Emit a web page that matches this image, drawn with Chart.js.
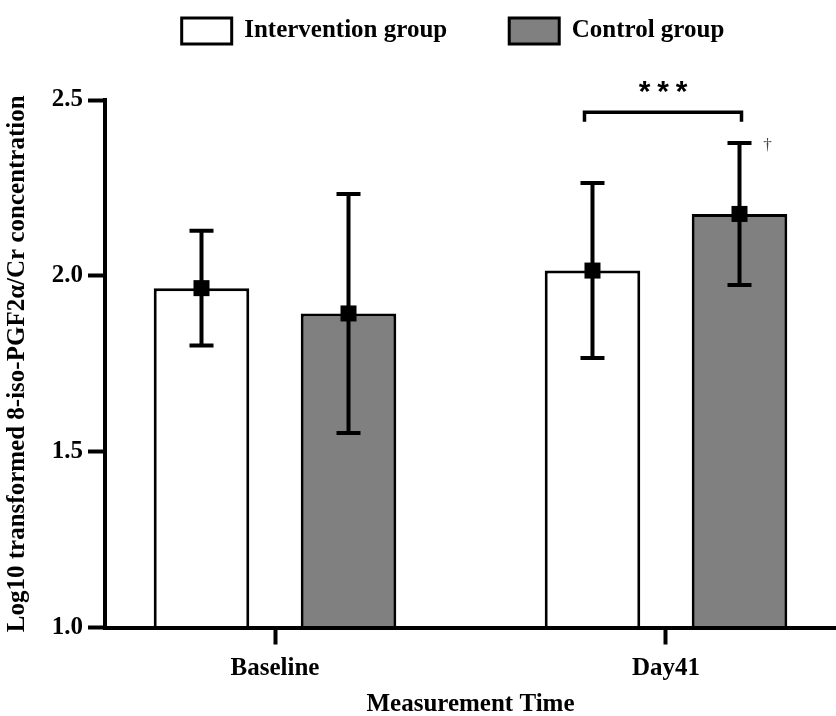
<!DOCTYPE html>
<html>
<head>
<meta charset="utf-8">
<script src="https://cdn.jsdelivr.net/npm/chart.js@4/dist/chart.umd.min.js"></script>
<style>
  html, body { margin: 0; padding: 0; background: #ffffff; }
  #wrap { width: 836px; height: 716px; }
</style>
</head>
<body>
<div id="wrap"><canvas id="c" width="836" height="716"></canvas></div>
<script>
// ---- data ----
const categories = ['Baseline', 'Day41'];
const seriesNames = ['Intervention group', 'Control group'];
const interventionMean = [1.965, 2.015];
const interventionSD = [0.163, 0.249];
const controlMean = [1.893, 2.176];
const controlSD = [0.340, 0.202];
const yTickValues = [1.0, 1.5, 2.0, 2.5];
const yTickLabels = ['1.0', '1.5', '2.0', '2.5'];
const xTickValues = [0, 1];
const yAxisTitle = 'Log10 transformed 8-iso-PGF2\u03B1/Cr concentration';
const xAxisTitle = 'Measurement Time';
const significanceLabel = '***';
const daggerLabel = '\u2020';

const SERIF = "'Liberation Serif', 'Times New Roman', serif";
Chart.defaults.font.family = SERIF;
Chart.defaults.font.size = 25;
Chart.defaults.font.weight = 'bold';
Chart.defaults.color = '#000';

const sdBySeries = [interventionSD, controlSD];
const meanBySeries = [interventionMean, controlMean];

const legendTweak = {
  id: 'legendTweak',
  beforeUpdate(chart) {
    const lg = chart.legend;
    if (lg && !lg._patched) {
      const fit = lg.fit;
      lg.fit = function () { fit.call(this); this.height = 100; };
      lg._patched = true;
    }
  },
  afterLayout(chart) {
    const lg = chart.legend;
    lg.top = -44;
    lg.left += 35;
    lg.right += 35;
  }
};

const errorBars = {
  id: 'errorBars',
  afterDatasetsDraw(chart) {
    const ctx = chart.ctx;
    const y = chart.scales.y;
    ctx.save();
    ctx.strokeStyle = '#000';
    ctx.fillStyle = '#000';
    ctx.lineCap = 'butt';
    for (let d = 0; d < chart.data.datasets.length; d++) {
      const meta = chart.getDatasetMeta(d);
      meta.data.forEach((bar, i) => {
        const m = meanBySeries[d][i], s = sdBySeries[d][i];
        const yt = y.getPixelForValue(m + s);
        const yb = y.getPixelForValue(m - s);
        const ym = y.getPixelForValue(m);
        const x = bar.x;
        ctx.lineWidth = 4;
        ctx.beginPath();
        ctx.moveTo(x, yt); ctx.lineTo(x, yb);
        ctx.moveTo(x - 12, yt); ctx.lineTo(x + 12, yt);
        ctx.moveTo(x - 12, yb); ctx.lineTo(x + 12, yb);
        ctx.stroke();
        ctx.fillRect(x - 8, ym - 8, 16, 16);
      });
    }
    // significance bracket between the two Day41 bars
    const bI = chart.getDatasetMeta(0).data[1];
    const bC = chart.getDatasetMeta(1).data[1];
    const left = bI.x - 8, right = bC.x + 2;
    const yLine = y.getPixelForValue(2.465);
    const yDrop = y.getPixelForValue(2.438);
    ctx.lineWidth = 3.5;
    ctx.lineJoin = 'miter';
    ctx.beginPath();
    ctx.moveTo(left, yDrop); ctx.lineTo(left, yLine);
    ctx.lineTo(right, yLine); ctx.lineTo(right, yDrop);
    ctx.stroke();
    // asterisks
    ctx.font = "bold 30px 'Liberation Sans', Arial, sans-serif";
    ctx.textAlign = 'center';
    ctx.textBaseline = 'middle';
    const cx = (left + right) / 2;
    const ys = yLine - 22;
    [-18.5, 0, 18.5].forEach((dx, k) => ctx.fillText(significanceLabel[k], cx + dx, ys + 2));
    // dagger
    ctx.font = "17px " + SERIF;
    ctx.fillStyle = '#444';
    ctx.fillText(daggerLabel, bC.x + 28, y.getPixelForValue(controlMean[1] + controlSD[1]) + 3);
    ctx.restore();
  }
};

new Chart(document.getElementById('c'), {
  type: 'bar',
  data: {
    datasets: [
      {
        label: seriesNames[0],
        data: categories.map((c, i) => ({ x: xTickValues[i], y: interventionMean[i] })),
        backgroundColor: '#ffffff',
        borderColor: '#000000',
        borderWidth: 3,
        categoryPercentage: 0.752,
        barPercentage: 0.65
      },
      {
        label: seriesNames[1],
        data: categories.map((c, i) => ({ x: xTickValues[i], y: controlMean[i] })),
        backgroundColor: '#808080',
        borderColor: '#000000',
        borderWidth: 3,
        categoryPercentage: 0.752,
        barPercentage: 0.65
      }
    ]
  },
  options: {
    responsive: false,
    animation: false,
    devicePixelRatio: 1,
    layout: { padding: 0 },
    plugins: {
      legend: {
        position: 'top',
        align: 'center',
        labels: {
          boxWidth: 50,
          boxHeight: 26,
          padding: 62,
          color: '#000',
          font: { family: SERIF, size: 25, weight: 'bold' }
        }
      },
      tooltip: { enabled: false }
    },
    scales: {
      x: {
        type: 'linear',
        offset: false,
        min: -0.4348,
        max: 1.4348,
        afterBuildTicks(scale) { scale.ticks = xTickValues.map(v => ({ value: v })); },
        afterFit(scale) { scale.height = 88.5; },
        ticks: {
          padding: 9,
          color: '#000',
          font: { family: SERIF, size: 25, weight: 'bold', lineHeight: 1.2 },
          callback: (v) => categories[v]
        },
        grid: { display: true, offset: false, drawOnChartArea: false, drawTicks: true, tickLength: 17, tickWidth: 4, tickColor: '#000' },
        border: { display: true, color: '#000', width: 4, z: 1 },
        title: {
          display: true,
          text: xAxisTitle,
          color: '#000',
          font: { family: SERIF, size: 25, weight: 'bold', lineHeight: 1 },
          padding: { top: 0, bottom: -1.5 }
        }
      },
      y: {
        type: 'linear',
        min: 1.0,
        max: 2.5,
        afterBuildTicks(scale) { scale.ticks = yTickValues.map(v => ({ value: v })); },
        afterFit(scale) { scale.width = 105; },
        ticks: {
          padding: 5,
          color: '#000',
          font: { family: SERIF, size: 25, weight: 'bold' },
          callback: (v, i) => yTickLabels[i]
        },
        grid: { display: true, drawOnChartArea: false, drawTicks: true, tickLength: 17, tickWidth: 4, tickColor: '#000' },
        border: { display: true, color: '#000', width: 4 },
        title: {
          display: true,
          text: yAxisTitle,
          color: '#000',
          font: { family: SERIF, size: 25, weight: 'bold', lineHeight: 1.2 },
          padding: { top: 3, bottom: 0 }
        }
      }
    }
  },
  plugins: [legendTweak, errorBars]
});
</script>
</body>
</html>
